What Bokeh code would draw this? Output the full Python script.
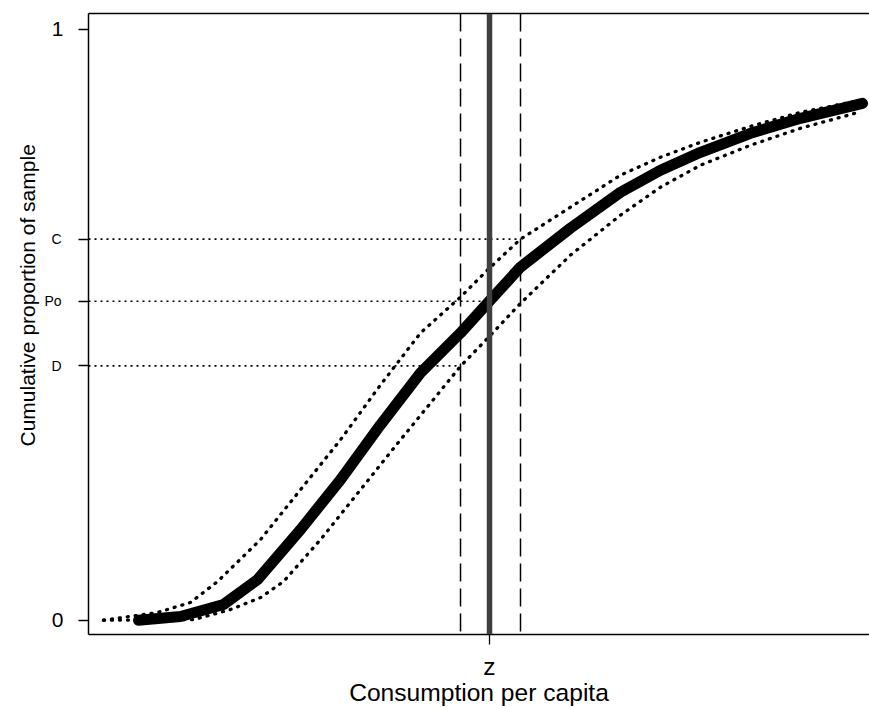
import numpy as np
from bokeh.plotting import figure
from bokeh.models import Range1d, FixedTicker, LinearAxis, Span, Title
from bokeh.embed import file_html
from bokeh.resources import INLINE

# ---- data ----
cons = [12.47, 22.94, 33.67, 42.15, 52.87, 62.84, 72.82, 82.79, 92.77, 100.0,
        107.73, 120.20, 132.67, 142.64, 152.62, 165.09, 177.56, 193.02]
cdf = [0.0, 0.0063, 0.0265, 0.0688, 0.1533, 0.2378, 0.3307, 0.4186, 0.4862, 0.5403,
       0.5978, 0.6637, 0.7245, 0.7617, 0.7921, 0.8242, 0.8496, 0.8749]

upper_x = [3.74, 17.21, 25.44, 32.17, 42.89, 52.87, 62.84, 72.82, 82.79, 92.77, 100.0,
           107.73, 120.20, 132.67, 142.64, 152.62, 165.09, 177.56, 192.52]
upper_y = [0.0, 0.013, 0.030, 0.0654, 0.1364, 0.2209, 0.3054, 0.3983, 0.4862, 0.5471, 0.5961,
           0.6451, 0.6992, 0.7533, 0.7837, 0.809, 0.836, 0.8597, 0.880]

lower_x = [3.74, 26.18, 35.41, 42.89, 48.63, 57.86, 67.83, 77.81, 86.53, 92.77, 100.0,
           107.73, 120.20, 132.67, 142.64, 152.62, 165.09, 177.56, 192.02]
lower_y = [0.0, 0.001, 0.018, 0.0383, 0.0654, 0.1364, 0.2209, 0.3054, 0.3778, 0.4299, 0.4806,
           0.5364, 0.618, 0.6857, 0.733, 0.7702, 0.804, 0.8327, 0.8597]

z = 100.0
z_lo = 92.77
z_hi = 107.73
level_C = 0.645
level_Po = 0.540
level_D = 0.4305
level_names = ["C", "Po", "D"]
level_values = [level_C, level_Po, level_D]
level_x_end = [z_hi, z, z_lo]

FONT = "Liberation Sans"

p = figure(width=869, height=708, output_backend="svg", toolbar_location=None,
           x_range=Range1d(0, 194.76), y_range=Range1d(-0.0242, 1.027),
           min_border_left=88, min_border_right=0, min_border_top=13, min_border_bottom=73)
p.outline_line_color = None
p.grid.visible = False
p.background_fill_color = "white"
p.border_fill_color = "white"

# x axis
xa = p.xaxis[0]
xa.ticker = FixedTicker(ticks=[z])
xa.major_label_overrides = {z: "z"}
xa.axis_label = "Consumption per capita"
xa.axis_label_text_font = FONT
xa.axis_label_text_font_style = "normal"
xa.axis_label_text_font_size = "24.6px"
xa.axis_label_standoff = -4
xa.major_label_text_font = FONT
xa.major_label_text_font_size = "24.6px"
xa.major_label_standoff = 8
xa.major_tick_out = 10
xa.major_tick_in = 0
xa.major_tick_line_width = 1.3
xa.axis_line_width = 1.5
xa.axis_line_color = "black"
xa.major_tick_line_color = "black"
xa.major_label_text_color = "black"
xa.axis_label_text_color = "black"

# y axis (inner): all ticks, numeric labels 0 and 1
ya = p.yaxis[0]
ya.ticker = FixedTicker(ticks=[0, level_D, level_Po, level_C, 1])
ya.major_label_overrides = {level_D: "", level_Po: "", level_C: ""}
ya.major_label_text_font = FONT
ya.major_label_text_font_size = "21px"
ya.major_label_standoff = 15
ya.major_tick_out = 10
ya.major_tick_in = 0
ya.major_tick_line_width = 1.3
ya.axis_line_width = 1.5
ya.axis_line_color = "black"
ya.major_tick_line_color = "black"
ya.major_label_text_color = "black"

# y axis (outer): small level names C, Po, D
yb = LinearAxis(ticker=FixedTicker(ticks=level_values),
                major_label_overrides=dict(zip(level_values, level_names)),
                major_tick_out=0, major_tick_in=0, minor_tick_out=0, minor_tick_in=0,
                axis_line_color=None, major_label_text_font=FONT,
                major_label_text_font_size="14px", major_label_text_color="black",
                major_label_standoff=-13)
p.add_layout(yb, "left")

# y title
ytitle = Title(text="Cumulative proportion of sample", align="left", offset=188,
               text_font=FONT, text_font_size="21px", text_font_style="normal",
               text_color="black", standoff=6)
p.add_layout(ytitle, "left")

# top border as an empty axis
top = LinearAxis(ticker=FixedTicker(ticks=[]), major_tick_out=0, major_tick_in=0,
                 minor_tick_out=0, minor_tick_in=0, major_label_text_font_size="0px",
                 major_label_standoff=0, axis_line_width=1.5, axis_line_color="black")
p.add_layout(top, "above")

# horizontal dotted reference lines
p.segment(x0=[0, 0, 0], y0=level_values, x1=level_x_end, y1=level_values,
          line_color="black", line_width=1.6, line_dash="2 4")

# confidence bands (dotted)
p.line(upper_x, upper_y, line_color="black", line_width=3.3, line_dash="1 7",
       line_cap="round")
p.line(lower_x, lower_y, line_color="black", line_width=3.3, line_dash="1 7",
       line_cap="round")

# main CDF
p.line(cons, cdf, line_color="black", line_width=11, line_cap="round", line_join="round")

# vertical lines
p.add_layout(Span(location=z_lo, dimension="height", line_color="black",
                  line_width=1.5, line_dash="18 7"))
p.add_layout(Span(location=z_hi, dimension="height", line_color="black",
                  line_width=1.5, line_dash="18 7"))
p.add_layout(Span(location=z, dimension="height", line_color="#404040", line_width=5.5))

open("out.html", "w").write(file_html(p, INLINE))
